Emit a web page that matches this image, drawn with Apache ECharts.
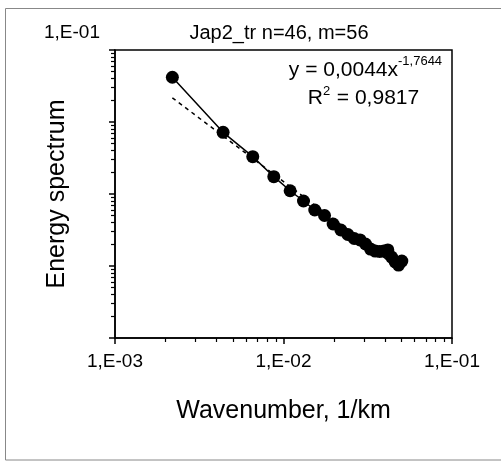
<!DOCTYPE html>
<html>
<head>
<meta charset="utf-8">
<script src="https://cdn.jsdelivr.net/npm/echarts@6/dist/echarts.min.js"></script>
<style>
html,body{margin:0;padding:0;background:#fff;}
#chart{width:501px;height:461px;}
</style>
</head>
<body>
<div id="chart"></div>
<script>
// Wavenumber (1/km)
var wavenumber = [0.00219, 0.00438, 0.00657, 0.00876, 0.01095, 0.01314, 0.01533, 0.01752,
  0.01971, 0.0219, 0.02409, 0.02628, 0.02847, 0.03066, 0.03285, 0.03504, 0.03723,
  0.03942, 0.04161, 0.0438, 0.04599, 0.04818, 0.05037];
// Energy spectrum
var energy = [418, 71.9, 33.0, 17.4, 11.1, 8.0, 6.0, 5.03, 3.83, 3.16, 2.74, 2.41, 2.30,
  2.02, 1.72, 1.61, 1.59, 1.61, 1.67, 1.33, 1.14, 1.03, 1.17];
// Power-law trend shown on the chart: y = a * x^b
var trendA = 0.0044;
var trendB = -1.7644;
var xTickValues = [0.001, 0.01, 0.1];
var xTickLabels = ['1,E-03', '1,E-02', '1,E-01'];
var yTopLabel = '1,E-01';
var titleText = 'Jap2_tr n=46, m=56';

var pts = wavenumber.map(function (x, i) { return [x, energy[i]]; });
var x0 = wavenumber[0], x1 = wavenumber[wavenumber.length - 1];
var trend = [[x0, trendA * Math.pow(x0, trendB)], [x1, trendA * Math.pow(x1, trendB)]];

var FONT = 'Liberation Sans, Arial, sans-serif';
var chart = echarts.init(document.getElementById('chart'), null, {renderer: 'canvas'});
chart.setOption({
  animation: false,
  backgroundColor: '#fff',
  grid: {left: 115, right: 49, top: 50, bottom: 123, show: true, borderColor: '#000', borderWidth: 1.5, backgroundColor: 'transparent'},
  xAxis: {
    type: 'log', logBase: 10, min: 0.001, max: 0.1,
    axisLine: {show: true, lineStyle: {color: '#000', width: 1.5}},
    axisTick: {show: true, inside: false, length: 6, lineStyle: {color: '#000', width: 1.5}},
    minorTick: {show: true, length: 4, splitNumber: 9, lineStyle: {color: '#000', width: 1.2}},
    splitLine: {show: false},
    axisLabel: {
      margin: 14, color: '#000', fontFamily: FONT, fontSize: 19,
      formatter: function (v) {
        for (var i = 0; i < xTickValues.length; i++) {
          if (Math.abs(Math.log10(v) - Math.log10(xTickValues[i])) < 1e-6) return xTickLabels[i];
        }
        return '';
      }
    },
    name: 'Wavenumber, 1/km', nameLocation: 'middle', nameGap: 61,
    nameTextStyle: {color: '#000', fontFamily: FONT, fontSize: 25}
  },
  yAxis: {
    type: 'log', logBase: 10, min: 0.1, max: 1000,
    axisLine: {show: true, lineStyle: {color: '#000', width: 1.5}},
    axisTick: {show: true, inside: false, length: 6, lineStyle: {color: '#000', width: 1.5}},
    minorTick: {show: true, length: 4, splitNumber: 9, lineStyle: {color: '#000', width: 1.2}},
    splitLine: {show: false},
    axisLabel: {show: false},
    name: 'Energy spectrum', nameLocation: 'middle', nameGap: 45, nameRotate: 90,
    nameTextStyle: {color: '#000', fontFamily: FONT, fontSize: 25}
  },
  series: [
    {
      type: 'line', data: pts, symbol: 'circle', symbolSize: 13,
      itemStyle: {color: '#000'}, lineStyle: {color: '#000', width: 1.5}, z: 3
    },
    {
      type: 'line', data: trend, symbol: 'none',
      lineStyle: {color: '#000', width: 1.5, type: [4, 4]}, z: 2
    }
  ],
  graphic: [
    {type: 'rect', shape: {x: 5.5, y: 8.5, width: 500, height: 451.5}, style: {fill: 'none', stroke: '#888', lineWidth: 1}, silent: true},
    {type: 'text', x: 72, y: 33, style: {text: yTopLabel, font: '19px ' + FONT, fill: '#000', textAlign: 'center', textVerticalAlign: 'middle'}},
    {type: 'text', x: 279, y: 33, style: {text: titleText, font: '20px ' + FONT, fill: '#000', textAlign: 'center', textVerticalAlign: 'middle'}},
    {type: 'text', x: 398, y: 70, style: {text: 'y = 0,0044x', font: '21px ' + FONT, fill: '#000', textAlign: 'right', textVerticalAlign: 'middle'}},
    {type: 'text', x: 398, y: 61, style: {text: '-1,7644', font: '13px ' + FONT, fill: '#000', textAlign: 'left', textVerticalAlign: 'middle'}},
    {type: 'text', x: 323, y: 98, style: {text: 'R', font: '21px ' + FONT, fill: '#000', textAlign: 'right', textVerticalAlign: 'middle'}},
    {type: 'text', x: 323, y: 91, style: {text: '2', font: '13px ' + FONT, fill: '#000', textAlign: 'left', textVerticalAlign: 'middle'}},
    {type: 'text', x: 331, y: 98, style: {text: ' = 0,9817', font: '21px ' + FONT, fill: '#000', textAlign: 'left', textVerticalAlign: 'middle'}}
  ]
});
</script>
</body>
</html>
